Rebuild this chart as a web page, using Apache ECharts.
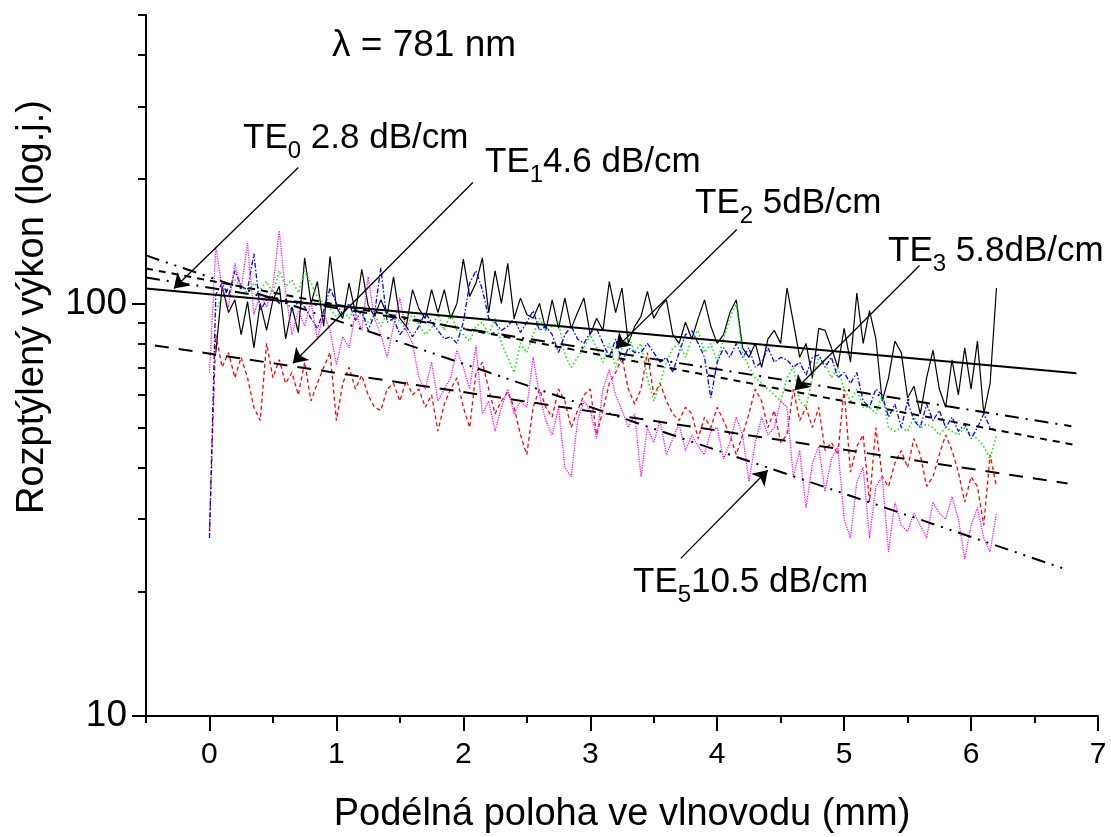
<!DOCTYPE html>
<html>
<head>
<meta charset="utf-8">
<script src="https://cdn.jsdelivr.net/npm/echarts@6/dist/echarts.min.js"></script>
<style>
  html, body { margin: 0; padding: 0; background: #fff; }
  #chart { width: 1111px; height: 837px; }
</style>
</head>
<body>
<div id="chart"></div>
<script>
// Scattered power along the waveguide, sampled every 0.05 mm
const stepMm = 0.05;

// TE0 mode (starts at 0.05 mm)
const te0Start = 0.05;
const te0Power = [
  76,110,95,102,84,101,78,100,86,102,
  110,82,98,85,129,100,113,88,130,98,
  92,112,95,121,99,93,102,94,116,92,
  88,108,97,92,108,95,108,92,100,128,
  104,112,129,95,120,100,125,92,103,94,
  92,100,86,102,87,103,87,95,103,84,
  92,86,113,95,109,80,88,93,107,92,
  98,102,84,80,90,82,92,102,88,80,
  84,95,102,78,74,80,70,82,86,80,
  109,90,74,80,66,87,86,78,70,87,
  72,106,80,96,82,58,66,81,76,59,
  63,54,66,77,62,56,73,60,78,62,
  81,54,64,109
];

// TE1 mode (starts at 0 mm)
const te1Start = 0;
const te1Power = [
  28,84,70,76,66,74,66,56,52,80,
  66,73,64,68,60,72,58,64,70,76,
  52,64,70,62,67,60,56,55,62,64,
  58,65,60,62,56,60,49,57,62,66,
  56,50,68,72,62,54,58,61,56,48,
  43,56,62,56,53,62,58,50,55,60,
  62,48,55,64,68,74,62,57,62,76,
  60,64,58,54,52,56,54,47,53,50,
  56,52,48,43,48,54,62,58,50,55,
  46,48,62,52,56,50,56,44,46,43,
  62,39,45,48,33,50,38,36,41,44,
  40,47,43,36,38,43,48,44,39,33,
  38,36,29,43,36
];

// TE2 mode (starts at 0.05 mm)
const te2Start = 0.05;
const te2Power = [
  96,104,109,114,110,106,112,108,113,106,
  120,110,114,106,120,112,104,100,97,93,
  96,92,98,94,90,94,88,95,90,91,
  86,95,89,84,87,94,86,95,86,84,
  81,88,90,84,92,80,74,68,80,76,
  84,92,86,88,90,75,70,74,78,84,
  78,72,80,70,78,84,76,80,66,58,
  64,72,78,80,74,82,86,76,80,72,
  82,92,100,76,70,66,64,62,60,58,
  66,70,58,56,66,74,72,66,70,62,
  58,62,56,56,54,60,50,49,50,49,
  53,50,51,50,48,50,49,48,50,48,
  47,45,42,48
];

// TE3 mode (starts at 0 mm)
const te3Start = 0;
const te3Power = [
  27,105,112,104,120,110,108,132,96,102,
  104,100,102,96,101,98,92,87,96,109,
  100,94,100,91,96,86,94,122,90,92,
  84,88,83,88,95,90,86,82,83,80,
  90,112,120,108,92,90,86,88,92,85,
  90,96,86,88,84,76,84,88,82,80,
  85,87,80,74,82,72,78,76,76,80,
  76,72,74,68,76,84,86,80,74,59,
  72,78,74,80,74,78,70,72,78,72,
  74,73,70,72,67,74,75,70,74,66,
  68,64,68,58,56,62,60,53,57,50,
  58,52,50,57,52,55,50,53,49,51,
  47,50,54,50,49
];

// TE5 mode (starts at 0 mm)
const te5Start = 0;
const te5Power = [
  68,137,109,98,125,108,140,94,105,98,
  110,150,106,84,96,88,101,82,95,86,
  71,83,78,95,86,116,92,84,74,88,
  103,86,80,66,62,72,58,62,66,77,
  70,62,79,54,58,49,56,62,54,58,
  56,74,60,52,48,56,40,38,52,58,
  55,47,62,69,60,55,50,54,38,50,
  46,52,43,47,51,44,48,45,43,49,
  50,42,46,53,48,37,46,53,48,50,
  58,56,38,44,32,41,45,35,42,45,
  30,27,37,40,27,36,38,25,33,29,
  28,31,29,27,33,31,30,34,30,24,
  29,32,27,25,31
];

// Exponential attenuation fits (end points of each straight line on the log axis)
const fitTE0 = [[-0.5, 108.7], [6.83, 67.7]];
const fitTE1 = [[-0.43, 79.1], [6.76, 36.6]];
const fitTE2 = [[-0.5, 115.6], [6.79, 50.4]];
const fitTE3 = [[-0.5, 121.5], [6.83, 45.3]];
const fitTE5 = [[-0.5, 130.7], [6.76, 22.6]];

// Arrows from each label to its fit line: [from, to]
const arrowTE0 = [[0.70, 213.5], [-0.28, 108.7]];
const arrowTE1 = [[2.075, 196.3], [0.657, 71.6]];
const arrowTE2 = [[4.154, 151.1], [3.20, 77.8]];
const arrowTE3 = [[5.594, 123.6], [4.61, 61.6]];
const arrowTE5 = [[3.713, 24.1], [4.398, 39.4]];

// Axis ticks
const xMajorTicks = [0, 1, 2, 3, 4, 5, 6, 7];
const yMajorTicks = [10, 100];
const yMinorTicks = [20, 30, 40, 50, 60, 70, 80, 90, 200, 300, 400, 500];

const FONT = '"Liberation Sans", Arial, sans-serif';

function toPoints(start, values) {
  return values.map((v, i) => [Math.round((start + i * stepMm) * 100) / 100, v]);
}

function dataSeries(name, start, values, color, dash, width) {
  return {
    name, type: 'line', data: toPoints(start, values),
    symbol: 'none', showSymbol: false, z: 2,
    lineStyle: { color, width: width || 1.2, type: dash }
  };
}

function fitSeries(name, pts, dash) {
  return {
    name, type: 'line', data: pts, symbol: 'none', showSymbol: false, z: 3,
    lineStyle: { color: '#000', width: 2, type: dash }
  };
}

function modeLabel(text, x, y) {
  return {
    type: 'text', x, y, z: 10,
    style: {
      text, fill: '#000', font: '35px ' + FONT,
      textAlign: 'left', textVerticalAlign: 'middle',
      rich: { s: { font: '24px ' + FONT, fill: '#000', padding: [26, 0, 0, 0] } }
    }
  };
}

const chart = echarts.init(document.getElementById('chart'), null, { renderer: 'canvas' });

chart.setOption({
  animation: false,
  backgroundColor: '#fff',
  grid: { left: 146, right: 13, top: 15, bottom: 121, containLabel: false, outerBoundsMode: 'none' },
  xAxis: [
    {
      type: 'value', min: -0.5, max: 7, interval: 0.5, position: 'bottom',
      axisLine: { show: true, onZero: false, lineStyle: { color: '#000', width: 2 } },
      axisTick: { show: true, length: 7, lineStyle: { color: '#000', width: 2 } },
      axisLabel: { show: false },
      splitLine: { show: false },
      name: 'Podélná poloha ve vlnovodu (mm)',
      nameLocation: 'middle', nameGap: 80,
      nameTextStyle: { fontSize: 38, fontFamily: FONT, color: '#000' }
    },
    {
      type: 'value', min: -0.5, max: 7, position: 'bottom',
      axisLine: { show: false, onZero: false },
      axisTick: { show: true, length: 15, customValues: xMajorTicks, lineStyle: { color: '#000', width: 2 } },
      axisLabel: { show: true, customValues: xMajorTicks, fontSize: 30, fontFamily: FONT, color: '#000', margin: 24 },
      splitLine: { show: false }
    }
  ],
  yAxis: [
    {
      type: 'log', logBase: 10, min: 10, max: 500, position: 'left',
      axisLine: { show: true, onZero: false, lineStyle: { color: '#000', width: 2 } },
      axisTick: { show: true, length: 14, customValues: yMajorTicks, lineStyle: { color: '#000', width: 2 } },
      axisLabel: { show: true, customValues: yMajorTicks, fontSize: 37, fontFamily: FONT, color: '#000', margin: 19 },
      splitLine: { show: false }, minorTick: { show: false }
    },
    {
      type: 'log', logBase: 10, min: 10, max: 500, position: 'left',
      axisLine: { show: false, onZero: false },
      axisTick: { show: true, length: 8, customValues: yMinorTicks, lineStyle: { color: '#000', width: 2 } },
      axisLabel: { show: false },
      splitLine: { show: false }
    }
  ],
  series: [
    dataSeries('TE0', te0Start, te0Power, '#000000', 'solid', 1.2),
    dataSeries('TE1', te1Start, te1Power, '#ff0000', [4, 3], 1.3),
    dataSeries('TE2', te2Start, te2Power, '#00ee00', [1.5, 2.5], 1.6),
    dataSeries('TE3', te3Start, te3Power, '#0000ff', [5, 2, 1.5, 2], 1.3),
    dataSeries('TE5', te5Start, te5Power, '#ff00ff', [1.2, 1.2], 1.3),
    fitSeries('TE0 fit', fitTE0, 'solid'),
    fitSeries('TE1 fit', fitTE1, [14, 10]),
    fitSeries('TE2 fit', fitTE2, [14, 7, 2, 7]),
    fitSeries('TE3 fit', fitTE3, [7, 6]),
    fitSeries('TE5 fit', fitTE5, [14, 7, 2, 7, 2, 7]),
    {
      name: 'arrows', type: 'lines', coordinateSystem: 'cartesian2d', z: 5,
      symbol: ['none', 'arrow'], symbolSize: 14,
      lineStyle: { color: '#000', width: 1.3, opacity: 1, curveness: 0 },
      data: [arrowTE0, arrowTE1, arrowTE2, arrowTE3, arrowTE5].map(a => ({ coords: a }))
    }
  ],
  graphic: [
    {
      type: 'text', x: 332, y: 46, z: 10,
      style: { text: 'λ = 781 nm', fill: '#000', font: '37px ' + FONT, textAlign: 'left', textVerticalAlign: 'middle' }
    },
    modeLabel('TE{s|0} 2.8 dB/cm', 243, 138),
    modeLabel('TE{s|1}4.6 dB/cm', 485, 162),
    modeLabel('TE{s|2} 5dB/cm', 695, 203),
    modeLabel('TE{s|3} 5.8dB/cm', 888, 251),
    modeLabel('TE{s|5}10.5 dB/cm', 633, 582),
    {
      type: 'text', x: 33, y: 307, rotation: Math.PI / 2, z: 10,
      style: { text: 'Rozptýlený výkon (log.j.)', fill: '#000', font: '38px ' + FONT, textAlign: 'center', textVerticalAlign: 'middle' }
    }
  ]
});
</script>
</body>
</html>
